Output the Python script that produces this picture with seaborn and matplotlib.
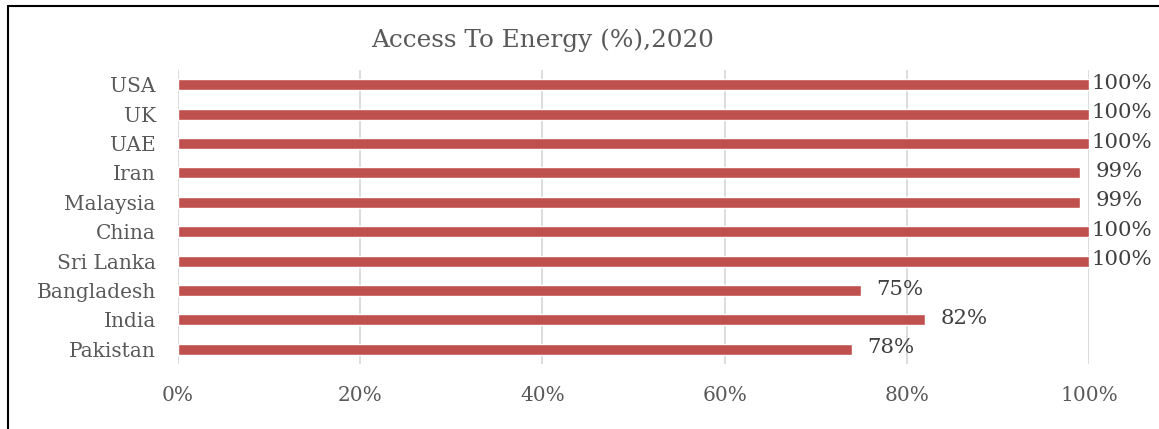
import matplotlib
matplotlib.use("Agg")
import matplotlib.pyplot as plt
import seaborn as sns
import pandas as pd
from matplotlib.lines import Line2D
from matplotlib.ticker import FuncFormatter

countries = ["USA", "UK", "UAE", "Iran", "Malaysia", "China", "Sri Lanka", "Bangladesh", "India", "Pakistan"]
values = [100, 100, 100, 99, 99, 100, 100, 75, 82, 74]
value_labels = ["100%", "100%", "100%", "99%", "99%", "100%", "100%", "75%", "82%", "78%"]
x_ticks = [0, 20, 40, 60, 80, 100]
title = "Access To Energy (%),2020"

sns.set_theme(style="white")
plt.rcParams["font.family"] = ["DejaVu Serif"]

df = pd.DataFrame({"country": countries, "value": values})

fig = plt.figure(figsize=(11.59, 4.29), dpi=100)
ax = fig.add_axes([178 / 1159, 1 - 364 / 429, (1089 - 178) / 1159, (364 - 70) / 429])

sns.barplot(data=df, x="value", y="country", color="#C0504D", saturation=1,
            width=0.38, ax=ax, order=countries)

ax.set_xlim(0, 100)
ax.set_ylim(len(countries) - 0.5, -0.5)
ax.set_xticks(x_ticks)
ax.xaxis.set_major_formatter(FuncFormatter(lambda v, p: f"{int(v)}%"))
ax.grid(axis="x", color="#D9D9D9", linewidth=1.3)
ax.grid(axis="y", visible=False)
ax.set_axisbelow(True)
for s in ax.spines.values():
    s.set_visible(False)
ax.set_xlabel("")
ax.set_ylabel("")
ax.tick_params(axis="both", length=0, colors="#595959")
ax.tick_params(axis="x", pad=16, labelsize=14.5)
ax.tick_params(axis="y", pad=16, labelsize=14.5)
for t in ax.get_yticklabels():
    t.set_y(t.get_position()[1])

for i, (v, lab) in enumerate(zip(values, value_labels)):
    off = 1.5 if v >= 100 else 11
    ax.annotate(lab, xy=(v, i), xytext=(off, 1), textcoords="offset points",
                ha="left", va="center", fontsize=15.3, color="#404040",
                annotation_clip=False)

fig.text(543 / 1159, 1 - 40 / 429, title, ha="center", va="center",
         fontsize=17.8, color="#595959")

fig.add_artist(Line2D([8 / 1159, 8 / 1159], [0, 1 - 6 / 429], transform=fig.transFigure,
                      color="black", linewidth=1.5))
fig.add_artist(Line2D([8 / 1159, 1], [1 - 6 / 429, 1 - 6 / 429], transform=fig.transFigure,
                      color="black", linewidth=1.5))

fig.savefig("out.png", dpi=100)
